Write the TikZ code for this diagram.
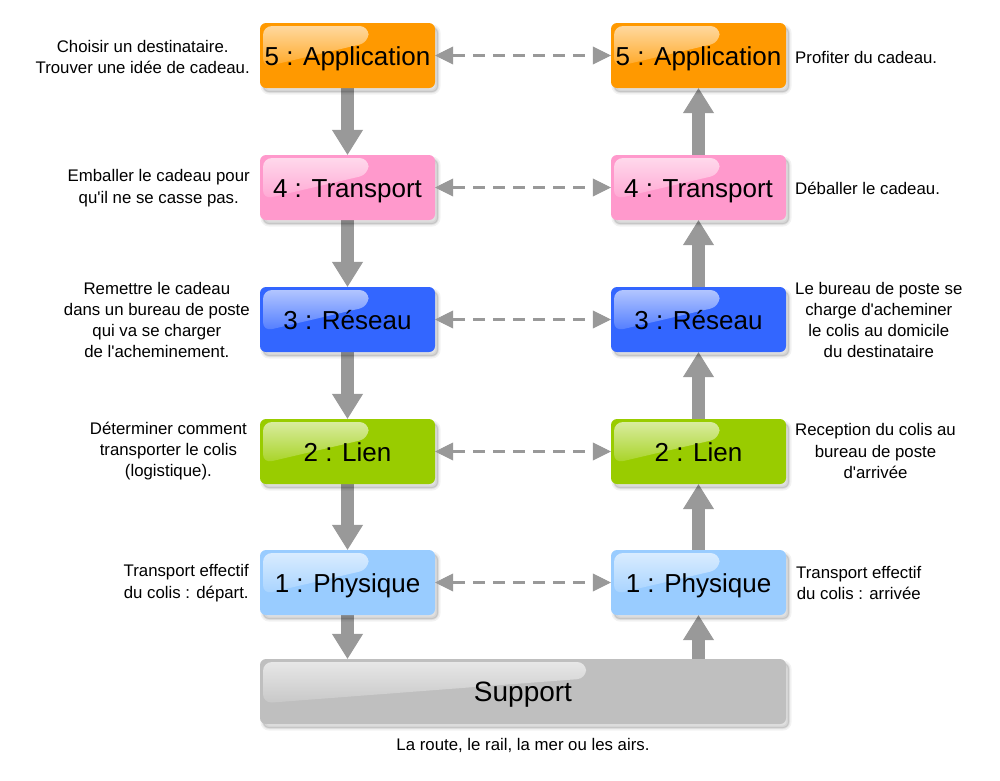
\documentclass[tikz,border=0pt]{standalone}
\usepackage{fontspec}
\setmainfont{Liberation Sans}[Ligatures=TeXOff]
\usetikzlibrary{arrows.meta,shadows,backgrounds,calc}
\definecolor{corange}{HTML}{FF9900}
\definecolor{cpink}{HTML}{FF99CC}
\definecolor{cblue}{HTML}{3366FF}
\definecolor{cgreen}{HTML}{99CC00}
\definecolor{clight}{HTML}{99CCFF}
\definecolor{cgray}{HTML}{BFBFBF}
\definecolor{arrowgray}{HTML}{999999}
\begin{document}
\begin{tikzpicture}[x=1pt,y=-1pt,
  softshadow/.style={
    general shadow={draw=black,line width=5pt,opacity=0.05,shadow xshift=3pt,shadow yshift=-4pt},
    general shadow={draw=black,line width=2pt,opacity=0.07,shadow xshift=3pt,shadow yshift=-4pt},
    general shadow={fill=black,opacity=0.12,shadow xshift=3pt,shadow yshift=-4pt}},
  glossy/.style={path picture={
    \path (path picture bounding box.north west) coordinate (gnw)
          (path picture bounding box.south east) coordinate (gse);
    \shade[top color=white!62!#1, bottom color=white!14!#1, rounded corners=9pt]
      let \p1=(gnw), \p2=(gse), \n1={\x2-\x1}, \n2={\y1-\y2} in
      ({\x1+3pt},{\y1-0.68*\n2}) -- ({\x1+3pt},{\y1-3pt}) -- ({\x1+0.62*\n1},{\y1-3pt})
      -- ({\x1+0.62*\n1},{\y1-0.30*\n2}) -- cycle;
  }},
  layerbox/.style={rounded corners=6pt, minimum width=175pt, minimum height=65pt,
    inner sep=0pt, fill=#1, glossy=#1, softshadow, text=black,
    text height=20pt, text depth=-2pt,
    font=\fontsize{26}{30}\selectfont},
  lbl/.style={font=\fontsize{16.8}{21.3}\selectfont, align=center, inner sep=0pt, text=black},
  flow/.style={draw=arrowgray, line width=13pt,
    -{Triangle[width=31pt,length=25pt,line width=1pt]}},
  dashflow/.style={draw=arrowgray, line width=3pt, dash pattern=on 12pt off 8pt,
    {Triangle[width=18pt,length=18pt,line width=0.5pt]}-{Triangle[width=18pt,length=18pt,line width=0.5pt]}}
]
\useasboundingbox (0,0) rectangle (1000,780);

% layers, left column
\node[layerbox=corange] (L5) at (347.5,55.5) {5 : Application};
\node[layerbox=cpink]   (L4) at (347.5,187.5) {4 : Transport};
\node[layerbox=cblue]   (L3) at (347.5,319.5) {3 : Réseau};
\node[layerbox=cgreen]  (L2) at (347.5,451.5) {2 : Lien};
\node[layerbox=clight]  (L1) at (347.5,582.5) {1 : Physique};
% layers, right column
\node[layerbox=corange] (R5) at (698.5,55.5) {5 : Application};
\node[layerbox=cpink]   (R4) at (698.5,187.5) {4 : Transport};
\node[layerbox=cblue]   (R3) at (698.5,319.5) {3 : Réseau};
\node[layerbox=cgreen]  (R2) at (698.5,451.5) {2 : Lien};
\node[layerbox=clight]  (R1) at (698.5,582.5) {1 : Physique};
% support
\node[layerbox=cgray, minimum width=526pt, font=\fontsize{28}{32}\selectfont] (S) at (523,691.5) {Support};

% vertical arrows
\begin{scope}[on background layer]
\draw[flow] (L5.south) -- (L4.north);
\draw[flow] (L4.south) -- (L3.north);
\draw[flow] (L3.south) -- (L2.north);
\draw[flow] (L2.south) -- (L1.north);
\draw[flow] (L1.south) -- (L1.south |- S.north);
\draw[flow] (R1.south |- S.north) -- (R1.south);
\draw[flow] (R1.north) -- (R2.south);
\draw[flow] (R2.north) -- (R3.south);
\draw[flow] (R3.north) -- (R4.south);
\draw[flow] (R4.north) -- (R5.south);
\end{scope}

% dashed peer arrows
\draw[dashflow] (L5.east) -- (R5.west);
\draw[dashflow] (L4.east) -- (R4.west);
\draw[dashflow] (L3.east) -- (R3.west);
\draw[dashflow] (L2.east) -- (R2.west);
\draw[dashflow] (L1.east) -- (R1.west);

% left labels
\node[lbl, anchor=east] (tl5) at (250,57) {Choisir un destinataire.\\Trouver une idée de cadeau.};
\node[lbl, anchor=east] (tl4) at (250,188) {Emballer le cadeau pour\\qu'il ne se casse pas.};
\node[lbl, anchor=east] (tl3) at (250,320) {Remettre le cadeau\\dans un bureau de poste\\qui va se charger\\de l'acheminement.};
\node[lbl, anchor=east] (tl2) at (247,451) {Déterminer comment\\transporter le colis\\(logistique).};
\node[lbl, anchor=east] (tl1) at (249,583) {Transport effectif\\du colis : départ.};
% right labels
\node[lbl, anchor=west] (tr5) at (795,57) {Profiter du cadeau.};
\node[lbl, anchor=west] (tr4) at (795,188) {Déballer le cadeau.};
\node[lbl, anchor=west] (tr3) at (795,320) {Le bureau de poste se\\charge d'acheminer\\le colis au domicile\\du destinataire};
\node[lbl, anchor=west] (tr2) at (795,451) {Reception du colis au\\bureau de poste\\d'arrivée};
\node[lbl, anchor=west] (tr1) at (796,583) {Transport effectif\\du colis : arrivée};
% bottom label
\node[lbl] (tb) at (523,745) {La route, le rail, la mer ou les airs.};
\end{tikzpicture}
\end{document}
